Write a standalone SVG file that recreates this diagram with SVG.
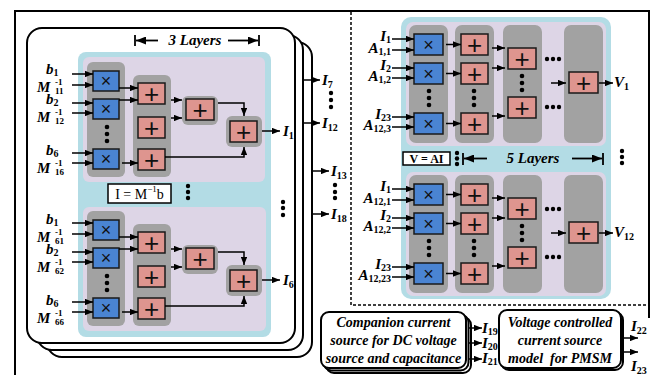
<svg xmlns="http://www.w3.org/2000/svg" width="656" height="375" viewBox="0 0 656 375">
<defs>
<style>
.card{fill:#fff;stroke:#000;stroke-width:2}
.bp{fill:#b3dce5}
.lav{fill:#ddd5e6}
.gc{fill:#a2a2a2}
.mul{fill:#4a84d2;stroke:#1a1a1a;stroke-width:1.5}
.add{fill:#de958f;stroke:#1a1a1a;stroke-width:1.5}
.x{font-family:"Liberation Sans",Arial,sans-serif;font-size:18px;text-anchor:middle;fill:#111}
.p{font-family:"Liberation Sans",Arial,sans-serif;font-size:26px;text-anchor:middle;fill:#111}
.lb{font-family:"Liberation Serif","Times New Roman",serif;font-style:italic;font-weight:bold;font-size:15px;fill:#000}
.sb{font-size:10px;font-style:normal}
.sm{font-family:"Liberation Serif","Times New Roman",serif;font-weight:bold;font-size:9px;fill:#000}
.box{font-family:"Liberation Serif","Times New Roman",serif;font-style:italic;font-weight:bold;font-size:14px;text-anchor:middle;fill:#000}
.eq{font-family:"Liberation Serif","Times New Roman",serif;fill:#000;text-anchor:middle}
.c{stroke:#000;stroke-width:1.5;fill:none;marker-end:url(#ah)}
.hl{stroke:#000;stroke-width:1.8;fill:none;marker-end:url(#ahL)}
.dot{fill:#000}
</style>
<marker id="ah" viewBox="0 0 10 8" refX="10" refY="4" markerWidth="8" markerHeight="6.4" markerUnits="userSpaceOnUse" orient="auto"><path d="M0,0 L10,4 L0,8 z"/></marker>
<marker id="ahL" viewBox="0 0 10 8" refX="10" refY="4" markerWidth="11" markerHeight="8" markerUnits="userSpaceOnUse" orient="auto"><path d="M0,0 L10,4 L0,8 z"/></marker>
</defs>
<rect width="656" height="375" fill="#fff"/>

<!-- frame -->
<g id="frame">
<path d="M15,375 V11 H649 V318" fill="none" stroke="#000" stroke-width="2"/>
<path d="M351,12 V305 H648" fill="none" stroke="#000" stroke-width="1.5" stroke-dasharray="3 2"/>
</g>

<!-- left stacked cards -->
<g id="cards-left">
<rect class="card" x="47" y="42" width="265" height="315" rx="15"/>
<rect class="card" x="37" y="35" width="266" height="315" rx="15"/>
<rect class="card" x="27" y="28" width="268" height="315" rx="15"/>
<rect class="bp" x="78" y="52" width="193" height="285" rx="8"/>
<rect class="lav" x="83" y="57" width="182" height="125" rx="6"/>
<rect class="lav" x="83" y="207" width="183" height="124" rx="6"/>
</g>

<g id="hdr3">
<line x1="135" y1="35" x2="135" y2="46" stroke="#000" stroke-width="1.8"/>
<line class="hl" x1="158" y1="40.5" x2="136" y2="40.5"/>
<text class="lb" x="195" y="45" text-anchor="middle">3 Layers</text>
<line class="hl" x1="228" y1="40.5" x2="258" y2="40.5"/>
<line x1="259" y1="35" x2="259" y2="46" stroke="#000" stroke-width="1.8"/>
</g>

<g id="eqI">
<rect x="108" y="184" width="63" height="19" fill="#fff" stroke="#000" stroke-width="1.5"/>
<text class="eq" x="139.5" y="199" font-size="14">I = M<tspan font-size="9" dy="-7">−1</tspan><tspan dy="7">b</tspan></text>
</g>

<!-- left top sub-panel -->
<g id="L1">
<g id="L1-col1"><rect class="gc" x="87" y="62" width="38" height="115" rx="6"/>
<circle class="dot" cx="107" cy="127" r="2.3"/><circle class="dot" cx="107" cy="134" r="2.3"/><circle class="dot" cx="107" cy="141" r="2.3"/></g>
<g id="L1-col2"><rect class="gc" x="133" y="75" width="38" height="102" rx="6"/></g>
<g id="L1-g3"><rect class="gc" x="182" y="96" width="36" height="29" rx="6"/></g>
<g id="L1-g4"><rect class="gc" x="226" y="116" width="36" height="31" rx="6"/></g>
<g id="L1-mul1"><rect class="mul" x="93" y="71" width="26" height="20"/><text class="x" x="106" y="87">×</text></g>
<g id="L1-mul2"><rect class="mul" x="93" y="99" width="26" height="20"/><text class="x" x="106" y="115">×</text></g>
<g id="L1-mul6"><rect class="mul" x="93" y="149" width="26" height="20"/><text class="x" x="106" y="165">×</text></g>
<g id="L1-add1"><rect class="add" x="138" y="83" width="27" height="21"/><text class="p" x="151.5" y="102.5">+</text></g>
<g id="L1-add2"><rect class="add" x="138" y="117" width="27" height="21"/><text class="p" x="151.5" y="136.5">+</text></g>
<g id="L1-add3"><rect class="add" x="138" y="149" width="27" height="21"/><text class="p" x="151.5" y="168.5">+</text></g>
<g id="L1-add4"><rect class="add" x="186" y="99" width="28" height="21"/><text class="p" x="200" y="118.5">+</text></g>
<g id="L1-add5"><rect class="add" x="230" y="121" width="27" height="21"/><text class="p" x="243.5" y="140.5">+</text></g>
</g>

<!-- left bottom sub-panel -->
<g id="L6" transform="translate(0,149)">
<g id="L6-col1"><rect class="gc" x="87" y="62" width="38" height="115" rx="6"/>
<circle class="dot" cx="107" cy="127" r="2.3"/><circle class="dot" cx="107" cy="134" r="2.3"/><circle class="dot" cx="107" cy="141" r="2.3"/></g>
<g id="L6-col2"><rect class="gc" x="133" y="75" width="38" height="102" rx="6"/></g>
<g id="L6-g3"><rect class="gc" x="182" y="96" width="36" height="29" rx="6"/></g>
<g id="L6-g4"><rect class="gc" x="226" y="116" width="36" height="31" rx="6"/></g>
<g id="L6-mul1"><rect class="mul" x="93" y="71" width="26" height="20"/><text class="x" x="106" y="87">×</text></g>
<g id="L6-mul2"><rect class="mul" x="93" y="99" width="26" height="20"/><text class="x" x="106" y="115">×</text></g>
<g id="L6-mul6"><rect class="mul" x="93" y="149" width="26" height="20"/><text class="x" x="106" y="165">×</text></g>
<g id="L6-add1"><rect class="add" x="138" y="83" width="27" height="21"/><text class="p" x="151.5" y="102.5">+</text></g>
<g id="L6-add2"><rect class="add" x="138" y="117" width="27" height="21"/><text class="p" x="151.5" y="136.5">+</text></g>
<g id="L6-add3"><rect class="add" x="138" y="149" width="27" height="21"/><text class="p" x="151.5" y="168.5">+</text></g>
<g id="L6-add4"><rect class="add" x="186" y="99" width="28" height="21"/><text class="p" x="200" y="118.5">+</text></g>
<g id="L6-add5"><rect class="add" x="230" y="121" width="27" height="21"/><text class="p" x="243.5" y="140.5">+</text></g>
</g>

<!-- left labels -->
<g id="labels-left">
<text class="lb" x="46" y="74">b<tspan class="sb" font-size="9" dy="2">1</tspan></text>
<text class="lb" x="37" y="92" font-size="16">M</text><text class="sm" x="55" y="85" font-size="8">-1</text><text class="sm" x="55" y="94">11</text>
<text class="lb" x="46" y="104">b<tspan class="sb" font-size="9" dy="2">2</tspan></text>
<text class="lb" x="37" y="122" font-size="16">M</text><text class="sm" x="55" y="115" font-size="8">-1</text><text class="sm" x="55" y="124">12</text>
<text class="lb" x="46" y="155">b<tspan class="sb" font-size="9" dy="2">6</tspan></text>
<text class="lb" x="37" y="173" font-size="16">M</text><text class="sm" x="55" y="166" font-size="8">-1</text><text class="sm" x="55" y="175">16</text>
<text class="lb" x="283" y="136">I<tspan class="sb" dy="3">1</tspan></text>

<text class="lb" x="46" y="224">b<tspan class="sb" font-size="9" dy="2">1</tspan></text>
<text class="lb" x="37" y="242" font-size="16">M</text><text class="sm" x="55" y="235" font-size="8">-1</text><text class="sm" x="55" y="244">61</text>
<text class="lb" x="46" y="254">b<tspan class="sb" font-size="9" dy="2">2</tspan></text>
<text class="lb" x="37" y="272" font-size="16">M</text><text class="sm" x="55" y="265" font-size="8">-1</text><text class="sm" x="55" y="274">62</text>
<text class="lb" x="46" y="305">b<tspan class="sb" font-size="9" dy="2">6</tspan></text>
<text class="lb" x="37" y="323" font-size="16">M</text><text class="sm" x="55" y="316" font-size="8">-1</text><text class="sm" x="55" y="325">66</text>
<text class="lb" x="283" y="285">I<tspan class="sb" dy="3">6</tspan></text>

<text class="lb" x="322" y="85">I<tspan class="sb" dy="3">7</tspan></text>
<text class="lb" x="322" y="128">I<tspan class="sb" dy="3">12</tspan></text>
<text class="lb" x="331" y="176">I<tspan class="sb" dy="3">13</tspan></text>
<text class="lb" x="331" y="219">I<tspan class="sb" dy="3">18</tspan></text>
</g>

<g id="dots-left">
<circle class="dot" cx="188" cy="186" r="2.2"/><circle class="dot" cx="188" cy="192" r="2.2"/><circle class="dot" cx="188" cy="198" r="2.2"/>
<circle class="dot" cx="283" cy="202" r="2.2"/><circle class="dot" cx="283" cy="208" r="2.2"/><circle class="dot" cx="283" cy="215" r="2.2"/>
<circle class="dot" cx="331" cy="93" r="2.2"/><circle class="dot" cx="331" cy="100" r="2.2"/><circle class="dot" cx="331" cy="107" r="2.2"/>
<circle class="dot" cx="335" cy="185" r="2.2"/><circle class="dot" cx="335" cy="192" r="2.2"/><circle class="dot" cx="335" cy="198" r="2.2"/>
</g>

<!-- right panel -->
<g id="panel-right">
<rect class="bp" x="401" y="17" width="210" height="282" rx="10"/>
<rect class="lav" x="406" y="22" width="200" height="124" rx="7"/>
<rect class="lav" x="406" y="172" width="200" height="124" rx="7"/>
</g>

<g id="R1">
<g id="R1-col1"><rect class="gc" x="409" y="25" width="39" height="118" rx="7"/>
<circle class="dot" cx="429" cy="91" r="2.3"/><circle class="dot" cx="429" cy="98" r="2.3"/><circle class="dot" cx="429" cy="105" r="2.3"/></g>
<g id="R1-col2"><rect class="gc" x="455" y="25" width="39" height="118" rx="7"/>
<circle class="dot" cx="474" cy="91" r="2.3"/><circle class="dot" cx="474" cy="98" r="2.3"/><circle class="dot" cx="474" cy="105" r="2.3"/></g>
<g id="R1-col3"><rect class="gc" x="503" y="25" width="39" height="118" rx="7"/>
<circle class="dot" cx="522" cy="76" r="2.3"/><circle class="dot" cx="522" cy="83" r="2.3"/><circle class="dot" cx="522" cy="90" r="2.3"/></g>
<g id="R1-col4"><rect class="gc" x="564" y="25" width="39" height="118" rx="7"/></g>
<g id="R1-hdots"><circle class="dot" cx="547" cy="59" r="2.2"/><circle class="dot" cx="553" cy="59" r="2.2"/><circle class="dot" cx="559" cy="59" r="2.2"/>
<circle class="dot" cx="547" cy="107" r="2.2"/><circle class="dot" cx="553" cy="107" r="2.2"/><circle class="dot" cx="559" cy="107" r="2.2"/></g>
<g id="R1-mul1"><rect class="mul" x="414" y="34" width="29" height="21"/><text class="x" x="428.5" y="50.5">×</text></g>
<g id="R1-mul2"><rect class="mul" x="414" y="63" width="29" height="21"/><text class="x" x="428.5" y="79.5">×</text></g>
<g id="R1-mul3"><rect class="mul" x="414" y="113" width="29" height="21"/><text class="x" x="428.5" y="129.5">×</text></g>
<g id="R1-a1"><rect class="add" x="461" y="34" width="27" height="21"/><text class="p" x="474.5" y="53.5">+</text></g>
<g id="R1-a2"><rect class="add" x="461" y="63" width="27" height="21"/><text class="p" x="474.5" y="82.5">+</text></g>
<g id="R1-a3"><rect class="add" x="461" y="113" width="27" height="21"/><text class="p" x="474.5" y="132.5">+</text></g>
<g id="R1-b1"><rect class="add" x="508" y="48" width="28" height="21"/><text class="p" x="522" y="67.5">+</text></g>
<g id="R1-b2"><rect class="add" x="508" y="97" width="28" height="21"/><text class="p" x="522" y="116.5">+</text></g>
<g id="R1-c1"><rect class="add" x="569" y="72" width="29" height="21"/><text class="p" x="583.5" y="91.5">+</text></g>
</g>

<g id="R12" transform="translate(0,150)">
<g id="R12-col1"><rect class="gc" x="409" y="25" width="39" height="118" rx="7"/>
<circle class="dot" cx="429" cy="91" r="2.3"/><circle class="dot" cx="429" cy="98" r="2.3"/><circle class="dot" cx="429" cy="105" r="2.3"/></g>
<g id="R12-col2"><rect class="gc" x="455" y="25" width="39" height="118" rx="7"/>
<circle class="dot" cx="474" cy="91" r="2.3"/><circle class="dot" cx="474" cy="98" r="2.3"/><circle class="dot" cx="474" cy="105" r="2.3"/></g>
<g id="R12-col3"><rect class="gc" x="503" y="25" width="39" height="118" rx="7"/>
<circle class="dot" cx="522" cy="76" r="2.3"/><circle class="dot" cx="522" cy="83" r="2.3"/><circle class="dot" cx="522" cy="90" r="2.3"/></g>
<g id="R12-col4"><rect class="gc" x="564" y="25" width="39" height="118" rx="7"/></g>
<g id="R12-hdots"><circle class="dot" cx="547" cy="59" r="2.2"/><circle class="dot" cx="553" cy="59" r="2.2"/><circle class="dot" cx="559" cy="59" r="2.2"/>
<circle class="dot" cx="547" cy="107" r="2.2"/><circle class="dot" cx="553" cy="107" r="2.2"/><circle class="dot" cx="559" cy="107" r="2.2"/></g>
<g id="R12-mul1"><rect class="mul" x="414" y="34" width="29" height="21"/><text class="x" x="428.5" y="50.5">×</text></g>
<g id="R12-mul2"><rect class="mul" x="414" y="63" width="29" height="21"/><text class="x" x="428.5" y="79.5">×</text></g>
<g id="R12-mul3"><rect class="mul" x="414" y="113" width="29" height="21"/><text class="x" x="428.5" y="129.5">×</text></g>
<g id="R12-a1"><rect class="add" x="461" y="34" width="27" height="21"/><text class="p" x="474.5" y="53.5">+</text></g>
<g id="R12-a2"><rect class="add" x="461" y="63" width="27" height="21"/><text class="p" x="474.5" y="82.5">+</text></g>
<g id="R12-a3"><rect class="add" x="461" y="113" width="27" height="21"/><text class="p" x="474.5" y="132.5">+</text></g>
<g id="R12-b1"><rect class="add" x="508" y="48" width="28" height="21"/><text class="p" x="522" y="67.5">+</text></g>
<g id="R12-b2"><rect class="add" x="508" y="97" width="28" height="21"/><text class="p" x="522" y="116.5">+</text></g>
<g id="R12-c1"><rect class="add" x="569" y="72" width="29" height="21"/><text class="p" x="583.5" y="91.5">+</text></g>
</g>

<g id="hdr5">
<rect x="403" y="152" width="47" height="13" fill="#fff" stroke="#000" stroke-width="1.5"/>
<text class="eq" x="426.5" y="162.5" font-size="12" font-weight="bold">V = AI</text>
<circle class="dot" cx="457" cy="153" r="2.2"/><circle class="dot" cx="457" cy="158.5" r="2.2"/><circle class="dot" cx="457" cy="164" r="2.2"/>
<line x1="463" y1="153" x2="463" y2="165" stroke="#000" stroke-width="1.8"/>
<line class="hl" x1="487" y1="158.5" x2="464" y2="158.5"/>
<text class="lb" x="533" y="163" text-anchor="middle">5 Layers</text>
<line class="hl" x1="572" y1="158.5" x2="602" y2="158.5"/>
<line x1="603" y1="153" x2="603" y2="165" stroke="#000" stroke-width="1.8"/>
<circle class="dot" cx="622" cy="151" r="2.2"/><circle class="dot" cx="622" cy="157" r="2.2"/><circle class="dot" cx="622" cy="163" r="2.2"/>
</g>

<g id="labels-right">
<text class="lb" x="391" y="41" text-anchor="end" font-size="14">I<tspan class="sb" font-size="9" dy="2">1</tspan></text>
<text class="lb" x="391" y="53" text-anchor="end" font-size="13">A<tspan class="sb" font-size="9" dy="2">1,1</tspan></text>
<text class="lb" x="391" y="70" text-anchor="end" font-size="14">I<tspan class="sb" font-size="9" dy="2">2</tspan></text>
<text class="lb" x="391" y="81" text-anchor="end" font-size="13">A<tspan class="sb" font-size="9" dy="2">1,2</tspan></text>
<text class="lb" x="391" y="119" text-anchor="end" font-size="14">I<tspan class="sb" font-size="9" dy="2">23</tspan></text>
<text class="lb" x="391" y="130" text-anchor="end" font-size="13">A<tspan class="sb" font-size="9" dy="2">12,3</tspan></text>
<text class="lb" x="614" y="87">V<tspan class="sb" dy="3">1</tspan></text>

<text class="lb" x="391" y="191" text-anchor="end" font-size="14">I<tspan class="sb" font-size="9" dy="2">1</tspan></text>
<text class="lb" x="391" y="203" text-anchor="end" font-size="13">A<tspan class="sb" font-size="9" dy="2">12,1</tspan></text>
<text class="lb" x="391" y="220" text-anchor="end" font-size="14">I<tspan class="sb" font-size="9" dy="2">2</tspan></text>
<text class="lb" x="391" y="231" text-anchor="end" font-size="13">A<tspan class="sb" font-size="9" dy="2">12,2</tspan></text>
<text class="lb" x="391" y="269" text-anchor="end" font-size="14">I<tspan class="sb" font-size="9" dy="2">23</tspan></text>
<text class="lb" x="391" y="280" text-anchor="end" font-size="13">A<tspan class="sb" font-size="9" dy="2">12,23</tspan></text>
<text class="lb" x="614" y="237">V<tspan class="sb" dy="3">12</tspan></text>
</g>

<!-- bottom boxes -->
<g id="companion">
<rect class="card" x="326" y="317" width="145" height="56" rx="8" stroke-width="1.5"/>
<rect class="card" x="323.5" y="314.5" width="145" height="56" rx="8" stroke-width="1.5"/>
<rect class="card" x="321" y="312" width="145" height="56" rx="8"/>
<text class="box" x="393.5" y="327">Companion current</text>
<text class="box" x="393.5" y="345">source for DC voltage</text>
<text class="box" x="393.5" y="363">source and capacitance</text>
</g>
<g id="vccs">
<rect class="card" x="501" y="312" width="122" height="58" rx="8" stroke-width="1.5"/>
<rect class="card" x="499" y="310" width="122" height="58" rx="8"/>
<text class="box" x="560" y="327">Voltage controlled</text>
<text class="box" x="560" y="345">current source</text>
<text class="box" x="560" y="363" xml:space="preserve">model  for PMSM</text>
</g>
<g id="labels-bottom">
<text class="lb" x="482" y="333" font-size="14">I<tspan class="sb" font-size="9" dy="2">19</tspan></text>
<text class="lb" x="482" y="348" font-size="14">I<tspan class="sb" font-size="9" dy="2">20</tspan></text>
<text class="lb" x="482" y="363" font-size="14">I<tspan class="sb" font-size="9" dy="2">21</tspan></text>
<text class="lb" x="631" y="331">I<tspan class="sb" dy="3">22</tspan></text>
<text class="lb" x="631" y="371">I<tspan class="sb" dy="3">23</tspan></text>
</g>

<!-- connectors -->
<g id="connectors">
<g id="conn-L1">
<line class="c" x1="72" y1="74" x2="93" y2="74"/><line class="c" x1="72" y1="85" x2="93" y2="85"/>
<line class="c" x1="72" y1="103" x2="93" y2="103"/><line class="c" x1="72" y1="113" x2="93" y2="113"/>
<line class="c" x1="72" y1="153" x2="93" y2="153"/><line class="c" x1="72" y1="163" x2="93" y2="163"/>
<line class="c" x1="119" y1="88" x2="138" y2="88"/><line class="c" x1="119" y1="100" x2="138" y2="100"/>
<line class="c" x1="122" y1="163" x2="138" y2="163"/>
<line class="c" x1="171" y1="100" x2="182" y2="100"/><line class="c" x1="171" y1="118" x2="182" y2="118"/>
<path class="c" d="M218,103 H244 V116"/>
<path class="c" d="M165,157 H244 V147"/>
<line class="c" x1="262" y1="131" x2="280" y2="131"/>
</g>
<g id="conn-L6" transform="translate(0,149)">
<line class="c" x1="72" y1="74" x2="93" y2="74"/><line class="c" x1="72" y1="85" x2="93" y2="85"/>
<line class="c" x1="72" y1="103" x2="93" y2="103"/><line class="c" x1="72" y1="113" x2="93" y2="113"/>
<line class="c" x1="72" y1="153" x2="93" y2="153"/><line class="c" x1="72" y1="163" x2="93" y2="163"/>
<line class="c" x1="119" y1="88" x2="138" y2="88"/><line class="c" x1="119" y1="100" x2="138" y2="100"/>
<line class="c" x1="122" y1="163" x2="138" y2="163"/>
<line class="c" x1="171" y1="100" x2="182" y2="100"/><line class="c" x1="171" y1="118" x2="182" y2="118"/>
<path class="c" d="M218,103 H244 V116"/>
<path class="c" d="M165,157 H244 V147"/>
<line class="c" x1="262" y1="131" x2="280" y2="131"/>
</g>
<g id="conn-stack">
<line class="c" x1="303" y1="80" x2="320" y2="80"/>
<line class="c" x1="303" y1="123" x2="320" y2="123"/>
<line class="c" x1="312" y1="171" x2="329" y2="171"/>
<line class="c" x1="312" y1="214" x2="329" y2="214"/>
</g>
<g id="conn-R1">
<line class="c" x1="392" y1="39" x2="414" y2="39"/><line class="c" x1="392" y1="50" x2="414" y2="50"/>
<line class="c" x1="392" y1="68" x2="414" y2="68"/><line class="c" x1="392" y1="78" x2="414" y2="78"/>
<line class="c" x1="392" y1="117" x2="414" y2="117"/><line class="c" x1="392" y1="127" x2="414" y2="127"/>
<line class="c" x1="446" y1="44.5" x2="461" y2="44.5"/><line class="c" x1="446" y1="73.5" x2="461" y2="73.5"/>
<line class="c" x1="446" y1="123.5" x2="461" y2="123.5"/>
<line class="c" x1="492" y1="48" x2="505" y2="48"/><line class="c" x1="492" y1="68" x2="505" y2="68"/>
<line class="c" x1="492" y1="116" x2="505" y2="116"/>
<line class="c" x1="551" y1="83" x2="566" y2="83"/>
<line class="c" x1="599" y1="83" x2="613" y2="83"/>
</g>
<g id="conn-R12" transform="translate(0,150)">
<line class="c" x1="392" y1="39" x2="414" y2="39"/><line class="c" x1="392" y1="50" x2="414" y2="50"/>
<line class="c" x1="392" y1="68" x2="414" y2="68"/><line class="c" x1="392" y1="78" x2="414" y2="78"/>
<line class="c" x1="392" y1="117" x2="414" y2="117"/><line class="c" x1="392" y1="127" x2="414" y2="127"/>
<line class="c" x1="446" y1="44.5" x2="461" y2="44.5"/><line class="c" x1="446" y1="73.5" x2="461" y2="73.5"/>
<line class="c" x1="446" y1="123.5" x2="461" y2="123.5"/>
<line class="c" x1="492" y1="48" x2="505" y2="48"/><line class="c" x1="492" y1="68" x2="505" y2="68"/>
<line class="c" x1="492" y1="116" x2="505" y2="116"/>
<line class="c" x1="551" y1="83" x2="566" y2="83"/>
<line class="c" x1="599" y1="83" x2="613" y2="83"/>
</g>
<g id="conn-bottom">
<line class="c" x1="469" y1="328" x2="482" y2="328"/>
<line class="c" x1="469" y1="343" x2="482" y2="343"/>
<line class="c" x1="469" y1="359" x2="482" y2="359"/>
<line class="c" x1="623" y1="338" x2="638" y2="338"/>
<line class="c" x1="623" y1="352" x2="638" y2="352"/>
</g>
</g>
</svg>
